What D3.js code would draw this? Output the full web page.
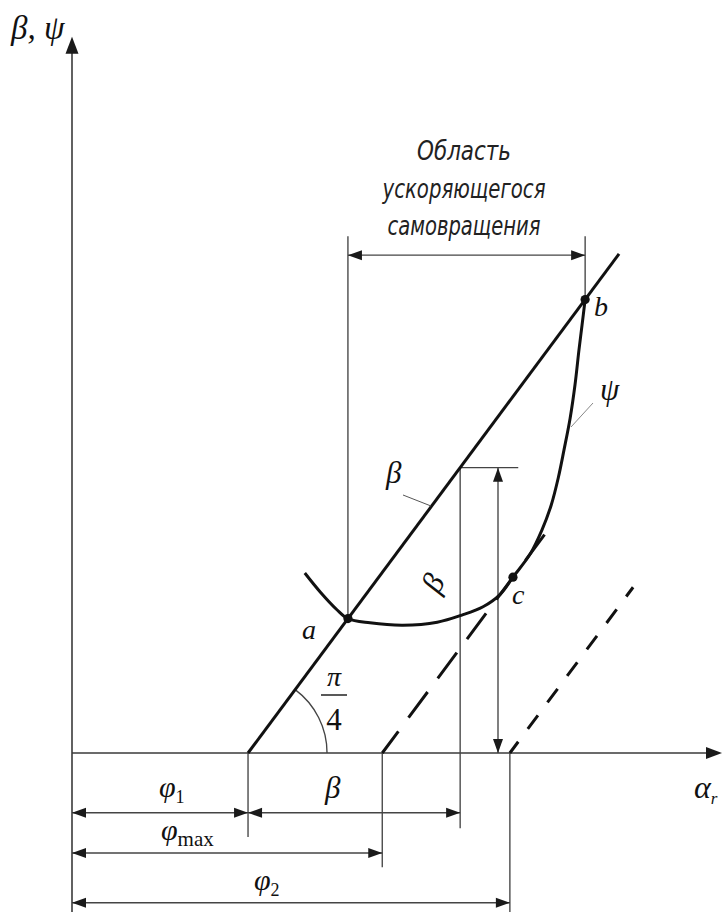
<!DOCTYPE html>
<html>
<head>
<meta charset="utf-8">
<script src="https://cdn.jsdelivr.net/npm/d3@7"></script>
<style>
  html, body { margin: 0; padding: 0; background: #fff; }
  svg { display: block; }
  .math { font-family: "Liberation Serif", "Times New Roman", serif; font-style: italic; fill: #111; }
  .upright { font-style: normal; }
  .note { font-family: "Liberation Sans Narrow", "DejaVu Sans Condensed", "Open Sans", sans-serif; font-style: italic; font-weight: 300; fill: #222; }
</style>
</head>
<body>
<div id="chart"></div>
<script>
// Angle offsets along the α_r axis: φ1, φmax, φ2
const offsetNames = ["φ1", "φmax", "φ2"];
const offsetValues = [40, 70.5, 99.5];
// Width of β measured from φ1 (also the height of the β line at that point)
const betaValue = 48.2;

// ψ curve (α_r, ψ)
const psiX = [52.9, 56.4, 60.2, 62.7, 67.7, 75.2, 83.0, 88.6, 93.4, 97.3, 100.2, 104.1, 106.8, 108.9, 110.5, 111.8, 113.2, 114.3, 115.2, 115.9, 116.6];
const psiY = [30.4, 27.2, 24.2, 22.7, 22.0, 21.6, 22.1, 23.3, 24.7, 26.8, 29.7, 33.6, 37.7, 41.9, 46.5, 51.2, 56.6, 62.2, 68.1, 72.3, 76.6];

// Characteristic points on the curve: a (start), c (tangency), b (end)
const pointNames = ["a", "c", "b"];
const pointX = [62.7, 100.2, 116.6];

// Extent of the β line and the two parallel dashed lines
const betaLineEnd = 124.3;
const dashedEnds = [108.5, 127.5];

// Region annotation
const regionText = ["Область", "ускоряющегося", "самовращения"];
const regionArrowY = 84.1;
const regionExtTop = 87.3;

const W = 722, H = 912;
const x = d3.scaleLinear().domain([0, 147.7]).range([72, 722]);
const y = d3.scaleLinear().domain([0, 121]).range([753, 36.7]);

const svg = d3.select("#chart").append("svg").attr("width", W).attr("height", H);

const thin = { stroke: "#444", width: 1.35 };

function line(g, x1, y1, x2, y2, color, w, dash) {
  const l = g.append("line")
    .attr("x1", x1).attr("y1", y1).attr("x2", x2).attr("y2", y2)
    .attr("stroke", color).attr("stroke-width", w);
  if (dash) l.attr("stroke-dasharray", dash);
  return l;
}

// Filled arrowhead whose tip is at (tx, ty), pointing in direction (dx, dy)
function head(g, tx, ty, dx, dy, len, half) {
  const n = Math.hypot(dx, dy); const ux = dx / n, uy = dy / n;
  const bx = tx - ux * len, by = ty - uy * len;
  const pts = [[tx, ty], [bx - uy * half, by + ux * half], [bx + uy * half, by - ux * half]];
  g.append("path").attr("d", "M" + pts.map(p => p.join(",")).join("L") + "Z").attr("fill", "#1a1a1a");
}

// Dimension line with arrowheads at both ends
function dim(g, x1, y1, x2, y2) {
  line(g, x1, y1, x2, y2, thin.stroke, thin.width);
  head(g, x1, y1, x1 - x2, y1 - y2, 14, 5);
  head(g, x2, y2, x2 - x1, y2 - y1, 14, 5);
}

const g = svg.append("g");

// Axes
line(g, x(0), H, x(0), y(121) + 14, "#3a3a3a", 1.6);
head(g, x(0), y(121), 0, -1, 17, 6.5);
line(g, x(0), y(0), x(147.7) - 14, y(0), "#3a3a3a", 1.6);
head(g, x(147.7), y(0), 1, 0, 16, 6);

// Extension lines from the α_r axis down to the dimension rows
const dimRows = [-10.1, -16.9, -25.3];
line(g, x(offsetValues[0]), y(0), x(offsetValues[0]), y(-14.2), thin.stroke, thin.width);
line(g, x(offsetValues[1]), y(0), x(offsetValues[1]), y(-19.3), thin.stroke, thin.width);
line(g, x(offsetValues[2]), y(0), x(offsetValues[2]), H, thin.stroke, thin.width);

const betaX = offsetValues[0] + betaValue;
// Vertical guide at φ1 + β, from the β line down below the axis
line(g, x(betaX), y(betaValue), x(betaX), y(-12.7), thin.stroke, thin.width);
// Horizontal tick at height β and the vertical β dimension
line(g, x(betaX), y(betaValue), x(101.4), y(betaValue), thin.stroke, thin.width);
dim(g, x(96.8), y(betaValue), x(96.8), y(0));

// Dimension rows
dim(g, x(0), y(dimRows[0]), x(offsetValues[0]), y(dimRows[0]));
dim(g, x(offsetValues[0]), y(dimRows[0]), x(betaX), y(dimRows[0]));
dim(g, x(0), y(dimRows[1]), x(offsetValues[1]), y(dimRows[1]));
dim(g, x(0), y(dimRows[2]), x(offsetValues[2]), y(dimRows[2]));

// Region of accelerating self-rotation: extension lines and dimension
const aY = pointX[0] - offsetValues[0];
const bY = pointX[2] - offsetValues[0];
line(g, x(pointX[0]), y(aY), x(pointX[0]), y(regionExtTop), thin.stroke, thin.width);
line(g, x(pointX[2]), y(bY), x(pointX[2]), y(regionExtTop), thin.stroke, thin.width);
dim(g, x(pointX[0]), y(regionArrowY), x(pointX[2]), y(regionArrowY));

// π/4 angle arc at the origin of the β line
const o = [x(offsetValues[0]), y(0)];
const rArc = 79;
const ang = Math.atan2(y(0) - y(10), x(offsetValues[0] + 10) - x(offsetValues[0]));
g.append("path")
  .attr("d", `M${o[0] + rArc},${o[1]} A${rArc},${rArc} 0 0 0 ${o[0] + rArc * Math.cos(ang)},${o[1] - rArc * Math.sin(ang)}`)
  .attr("fill", "none").attr("stroke", thin.stroke).attr("stroke-width", thin.width);

// Parallel dashed lines starting at φmax and φ2
const dashes = [["32 17", 5], ["17 16", 3]];
[offsetValues[1], offsetValues[2]].forEach((x0, i) => {
  line(g, x(x0), y(0), x(dashedEnds[i]), y(dashedEnds[i] - x0), "#111", 3, dashes[i][0])
    .attr("stroke-dashoffset", dashes[i][1]);
});

// β line at 45° from φ1
line(g, x(offsetValues[0]), y(0), x(betaLineEnd), y(betaLineEnd - offsetValues[0]), "#111", 3);

// ψ curve
const psiData = psiX.map((v, i) => [v, psiY[i]]);
g.append("path")
  .attr("d", d3.line().x(d => x(d[0])).y(d => y(d[1])).curve(d3.curveCatmullRom.alpha(0.5))(psiData))
  .attr("fill", "none").attr("stroke", "#111").attr("stroke-width", 3);

// Points a, c, b
const pointY = [pointX[0] - offsetValues[0], pointX[1] - offsetValues[1], pointX[2] - offsetValues[0]];
pointX.forEach((v, i) => {
  g.append("circle").attr("cx", x(v)).attr("cy", y(pointY[i])).attr("r", 4.6).attr("fill", "#111");
});

// Leader lines for the β and ψ labels
line(g, 403, 495, 431, 506, "#555", 1);
line(g, 571, 427, 593, 403, "#888", 1);

// Labels
function label(tx, ty, main, sub, size, subSize, subItalic) {
  const t = g.append("text").attr("class", "math").attr("x", tx).attr("y", ty).attr("font-size", size).text(main);
  if (sub) {
    t.append("tspan").attr("class", subItalic ? "" : "upright").attr("font-size", subSize).attr("dy", 6).text(sub);
  }
  return t;
}
label(11, 39, "β, ψ", null, 33);
label(694, 798, "α", "r", 32, 17, true);
label(159, 797, "φ", "1", 30, 18, false);
label(161, 840, "φ", "max", 30, 21, false);
label(254, 890, "φ", "2", 30, 18, false);
label(325, 798, "β", null, 31);
label(386, 483, "β", null, 31);
label(600, 400, "ψ", null, 31);
label(302, 639, "a", null, 28);
label(512, 604, "c", null, 28);
label(594, 316, "b", null, 28);

g.append("text").attr("class", "math").attr("font-size", 31)
  .attr("text-anchor", "middle")
  .attr("transform", "translate(442,588) rotate(-62)").text("β");

// π/4
g.append("text").attr("class", "math").attr("font-size", 28).attr("text-anchor", "middle")
  .attr("x", 334).attr("y", 686).text("π");
line(g, 321, 695, 347, 695, "#222", 1.5);
g.append("text").attr("class", "math upright").attr("font-size", 31).attr("text-anchor", "middle")
  .attr("x", 334).attr("y", 730).text("4");

// Region caption, three evenly spaced lines
const capBase = [160, 198, 235];
const capWidth = [94, 163, 153];
regionText.forEach((s, i) => {
  g.append("text").attr("class", "note").attr("font-size", 26)
    .attr("text-anchor", "middle").attr("x", 464).attr("y", capBase[i])
    .attr("textLength", capWidth[i]).attr("lengthAdjust", "spacingAndGlyphs")
    .text(s);
});
</script>
</body>
</html>
